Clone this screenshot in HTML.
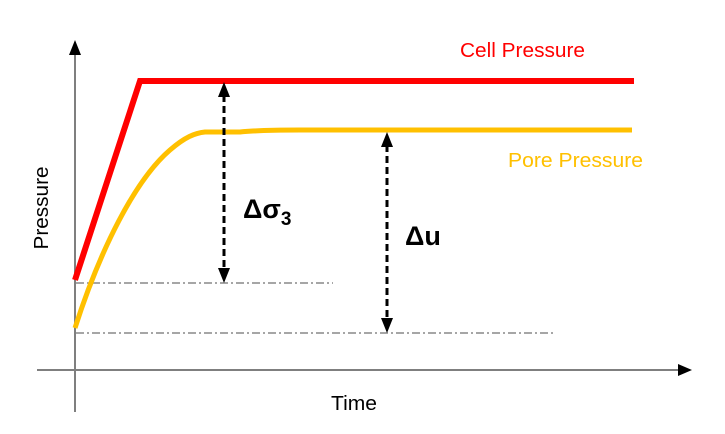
<!DOCTYPE html>
<html><head><style>html,body{margin:0;padding:0;background:#fff;}svg{display:block}</style></head>
<body>
<svg width="725" height="434" viewBox="0 0 725 434" xmlns="http://www.w3.org/2000/svg" font-family="Liberation Sans, sans-serif">
<!-- axes -->
<line x1="75" y1="412" x2="75" y2="52" stroke="#7f7f7f" stroke-width="2"/>
<polygon points="75,40 69,55 81,55" fill="#000"/>
<line x1="37" y1="370" x2="680" y2="370" stroke="#7f7f7f" stroke-width="2"/>
<polygon points="692,370 678,364 678,376" fill="#000"/>
<!-- dash-dot reference lines -->
<line x1="76" y1="283" x2="333" y2="283" stroke="#888" stroke-width="1.5" stroke-dasharray="8,3,2,3"/>
<line x1="76" y1="333" x2="553" y2="333" stroke="#888" stroke-width="1.5" stroke-dasharray="8,3,2,3"/>
<!-- curves -->
<polyline points="75,280 140,81 634,81" fill="none" stroke="#ff0000" stroke-width="6"/>
<path d="M75,328 C100,250 135,180 170,150 C185,137 195,133 205,132 L240,132 C260,130 280,130 300,130 L632,130" fill="none" stroke="#ffc000" stroke-width="5"/>
<!-- dimension arrows -->
<line x1="224" y1="95" x2="224" y2="270" stroke="#000" stroke-width="3" stroke-dasharray="7,4"/>
<polygon points="224,82 218,97 230,97" fill="#000"/>
<polygon points="224,283 218,268 230,268" fill="#000"/>
<line x1="387" y1="145" x2="387" y2="320" stroke="#000" stroke-width="3" stroke-dasharray="7,4"/>
<polygon points="387,132 381,147 393,147" fill="#000"/>
<polygon points="387,333 381,318 393,318" fill="#000"/>
<!-- labels -->
<text x="460" y="57" font-size="20.5" fill="#ff0000" textLength="125" lengthAdjust="spacingAndGlyphs">Cell Pressure</text>
<text x="508" y="167" font-size="20.5" fill="#ffc000" textLength="135" lengthAdjust="spacingAndGlyphs">Pore Pressure</text>
<text x="243" y="218" font-size="27" font-weight="bold" fill="#000">Δσ<tspan font-size="19" dy="7">3</tspan></text>
<text x="405" y="245" font-size="27" font-weight="bold" fill="#000">Δu</text>
<text transform="translate(48,208) rotate(-90)" text-anchor="middle" font-size="20" fill="#000" textLength="83" lengthAdjust="spacingAndGlyphs">Pressure</text>
<text x="331" y="410" font-size="20" fill="#000" textLength="46" lengthAdjust="spacingAndGlyphs">Time</text>
</svg>
</body></html>
